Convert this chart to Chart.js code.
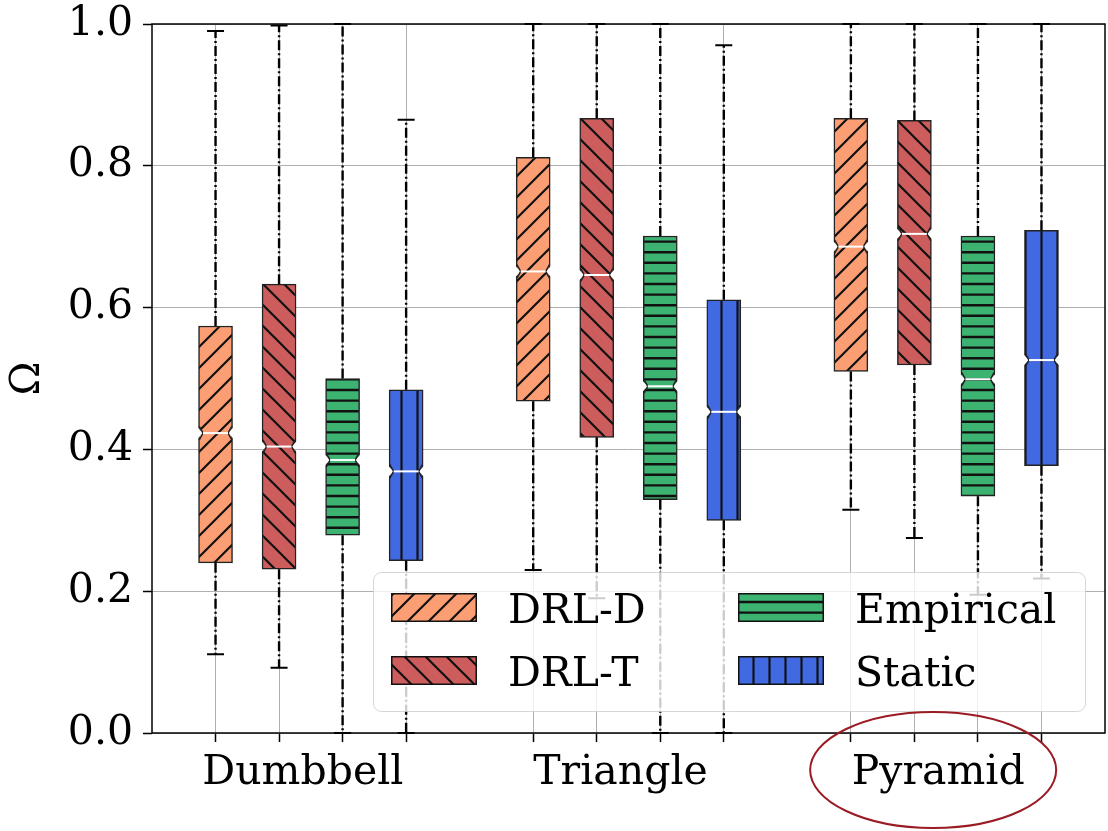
<!DOCTYPE html>
<html>
<head>
<meta charset="utf-8">
<script src="https://cdn.jsdelivr.net/npm/chart.js@4.4.1/dist/chart.umd.min.js"></script>
<style>
  html, body { margin: 0; padding: 0; background: #ffffff; }
  canvas { display: block; }
</style>
</head>
<body>
<canvas id="chart" width="1108" height="831"></canvas>
<script>
// Topologies on the x axis and the four controllers compared in each group
const categories = ['Dumbbell', 'Triangle', 'Pyramid'];
const seriesNames = ['DRL-D', 'DRL-T', 'Empirical', 'Static'];

// Box statistics of Ω, one row per controller, one column per topology
const whiskerLow    = [[0.111, 0.230, 0.315], [0.092, 0.190, 0.275], [0.000, 0.000, 0.195], [0.000, 0.000, 0.218]];
const lowerQuartile = [[0.240, 0.468, 0.510], [0.231, 0.417, 0.519], [0.279, 0.329, 0.334], [0.243, 0.300, 0.377]];
const medianValue   = [[0.423, 0.651, 0.686], [0.404, 0.646, 0.704], [0.385, 0.489, 0.499], [0.369, 0.453, 0.526]];
const upperQuartile = [[0.574, 0.812, 0.867], [0.633, 0.867, 0.864], [0.500, 0.701, 0.701], [0.484, 0.611, 0.709]];
const whiskerHigh   = [[0.990, 1.000, 1.000], [0.998, 1.000, 1.000], [1.000, 1.000, 1.000], [0.865, 0.970, 1.000]];

// Y axis tick values
const yTickValues = [0.0, 0.2, 0.4, 0.6, 0.8, 1.0];

// Topology whose label is circled
const highlightedCategory = 'Pyramid';

// Styles
const seriesColors = ['#FC9E74', '#CD5C5C', '#3CB371', '#4169E1'];
const seriesHatch  = ['fwd', 'back', 'horiz', 'vert'];
const FONT = "'DejaVu Serif', 'Liberation Serif', serif";
const NOTCH_HALF = 0.0095;   // notch half-height in Ω units
const NOTCH_INDENT = 4.5;    // notch depth in px on each side

// Box slot on the linear x axis: 4 boxes per group, one empty slot between groups
const boxPosition = (cat, s) => cat * (seriesNames.length + 1) + s + 1;
const groupCenter = (cat) => cat * (seriesNames.length + 1) + (seriesNames.length + 1) / 2;

const xTickValues = [];
const xTickLabel = {};
categories.forEach((name, i) => {
  seriesNames.forEach((_, s) => xTickValues.push(boxPosition(i, s)));
  xTickValues.push(groupCenter(i));
  xTickLabel[groupCenter(i)] = name;
});
xTickValues.sort((a, b) => a - b);

function makeHatch(kind, fill) {
  const t = document.createElement('canvas');
  let w, h;
  if (kind === 'fwd' || kind === 'back') { w = 21; h = 21; }
  else if (kind === 'horiz') { w = 4; h = 53; }
  else { w = 16; h = 4; }
  t.width = w; t.height = h;
  const g = t.getContext('2d');
  g.fillStyle = fill;
  g.fillRect(0, 0, w, h);
  g.strokeStyle = '#111';
  g.lineWidth = 2.2;
  g.beginPath();
  if (kind === 'fwd') {
    for (const o of [-w, 0, w]) { g.moveTo(o - 2, h + 2); g.lineTo(o + w + 2, -2); }
  } else if (kind === 'back') {
    for (const o of [-w, 0, w]) { g.moveTo(o - 2, -2); g.lineTo(o + w + 2, h + 2); }
  } else if (kind === 'horiz') {
    g.lineWidth = 2.4;
    for (let k = 0; k < 5; k++) { const y = 8.4 + 10.6 * k; g.moveTo(0, y); g.lineTo(w, y); }
  } else {
    g.moveTo(1.5, 0); g.lineTo(1.5, h);
  }
  g.stroke();
  const ctx = document.getElementById('chart').getContext('2d');
  return ctx.createPattern(t, 'repeat');
}

const patterns = seriesNames.map((_, s) => makeHatch(seriesHatch[s], seriesColors[s]));

const datasets = seriesNames.map((name, s) => ({
  label: name,
  data: categories.map((_, i) => ({ x: boxPosition(i, s), y: [lowerQuartile[s][i], upperQuartile[s][i]] })),
  backgroundColor: patterns[s],
  borderColor: '#222222',
  borderWidth: 1.5,
  borderSkipped: false,
  barThickness: 34,
  grouped: false
}));

function eachBox(chart, fn) {
  const yS = chart.scales.y;
  chart.data.datasets.forEach((ds, s) => {
    const meta = chart.getDatasetMeta(s);
    meta.data.forEach((el, i) => {
      const p = el.getProps(['x', 'width'], true);
      fn({
        x: p.x,
        left: p.x - p.width / 2,
        right: p.x + p.width / 2,
        width: p.width,
        low: yS.getPixelForValue(whiskerLow[s][i]),
        q1: yS.getPixelForValue(lowerQuartile[s][i]),
        med: yS.getPixelForValue(medianValue[s][i]),
        q3: yS.getPixelForValue(upperQuartile[s][i]),
        high: yS.getPixelForValue(whiskerHigh[s][i]),
        nTop: yS.getPixelForValue(medianValue[s][i] + NOTCH_HALF),
        nBot: yS.getPixelForValue(medianValue[s][i] - NOTCH_HALF)
      });
    });
  });
}

// Notches, medians, whiskers, caps and the axes frame
const boxDetails = {
  id: 'boxDetails',
  beforeDatasetsDraw(chart) {
    const ctx = chart.ctx;
    ctx.save();
    ctx.beginPath();
    ctx.rect(0, 0, chart.width, chart.height);
    eachBox(chart, (b) => {
      ctx.moveTo(b.left - 2, b.nTop); ctx.lineTo(b.left + NOTCH_INDENT, b.med); ctx.lineTo(b.left - 2, b.nBot); ctx.closePath();
      ctx.moveTo(b.right + 2, b.nTop); ctx.lineTo(b.right - NOTCH_INDENT, b.med); ctx.lineTo(b.right + 2, b.nBot); ctx.closePath();
    });
    ctx.clip('evenodd');
  },
  afterDatasetsDraw(chart) {
    const ctx = chart.ctx;
    ctx.restore();
    ctx.save();
    eachBox(chart, (b) => {
      // notch outline
      ctx.setLineDash([]);
      ctx.strokeStyle = '#222222';
      ctx.lineWidth = 1.5;
      ctx.beginPath();
      ctx.moveTo(b.left + 0.75, b.nTop); ctx.lineTo(b.left + NOTCH_INDENT, b.med); ctx.lineTo(b.left + 0.75, b.nBot);
      ctx.moveTo(b.right - 0.75, b.nTop); ctx.lineTo(b.right - NOTCH_INDENT, b.med); ctx.lineTo(b.right - 0.75, b.nBot);
      ctx.stroke();
      // median
      ctx.strokeStyle = '#ffffff';
      ctx.lineWidth = 2;
      ctx.beginPath();
      ctx.moveTo(b.left + NOTCH_INDENT, b.med); ctx.lineTo(b.right - NOTCH_INDENT, b.med);
      ctx.stroke();
      // whiskers
      ctx.strokeStyle = '#000000';
      ctx.lineWidth = 2.4;
      ctx.setLineDash([10, 3, 2, 3]);
      ctx.beginPath();
      ctx.moveTo(b.x, b.q3); ctx.lineTo(b.x, b.high);
      ctx.moveTo(b.x, b.q1); ctx.lineTo(b.x, b.low);
      ctx.stroke();
      // caps
      ctx.setLineDash([]);
      ctx.lineWidth = 2;
      ctx.beginPath();
      const cw = b.width / 4;
      ctx.moveTo(b.x - cw, b.high); ctx.lineTo(b.x + cw, b.high);
      ctx.moveTo(b.x - cw, b.low); ctx.lineTo(b.x + cw, b.low);
      ctx.stroke();
    });
    const a = chart.chartArea;
    ctx.strokeStyle = '#000000';
    ctx.lineWidth = 1.5;
    ctx.strokeRect(a.left, a.top, a.right - a.left, a.bottom - a.top);
    ctx.restore();
  }
};

// Two-column legend inside the plot area, plus the ring around one category label
const boxLegend = {
  id: 'boxLegend',
  afterDraw(chart) {
    const ctx = chart.ctx;
    ctx.save();
    ctx.beginPath();
    ctx.roundRect(373.5, 572.5, 712, 139, 8);
    ctx.fillStyle = 'rgba(255,255,255,0.8)';
    ctx.fill();
    ctx.strokeStyle = 'rgba(204,204,204,0.8)';
    ctx.lineWidth = 1;
    ctx.stroke();
    const colX = [391, 738];
    const rowY = [593, 656];
    ctx.font = '41px ' + FONT;
    ctx.textBaseline = 'alphabetic';
    ctx.textAlign = 'left';
    seriesNames.forEach((name, s) => {
      const col = Math.floor(s / 2), row = s % 2;
      const x = colX[col], y = rowY[row];
      ctx.fillStyle = patterns[s];
      ctx.fillRect(x, y, 86, 29);
      ctx.strokeStyle = '#111111';
      ctx.lineWidth = 1.5;
      ctx.strokeRect(x + 0.75, y + 0.75, 84.5, 27.5);
      ctx.fillStyle = '#000000';
      ctx.fillText(name, x + 117, y + 29.5);
    });

    // ring around the highlighted topology label
    const ci = categories.indexOf(highlightedCategory);
    if (ci >= 0) {
      const cx = chart.scales.x.getPixelForValue(groupCenter(ci)) - 13;
      ctx.beginPath();
      ctx.ellipse(cx, 770, 123, 58, 0, 0, Math.PI * 2);
      ctx.strokeStyle = '#9B1B24';
      ctx.lineWidth = 2;
      ctx.stroke();
    }
    ctx.restore();
  }
};

const transparent = 'rgba(0,0,0,0)';
const isBoxTick = (c) => c.tick && Number.isInteger(c.tick.value);

new Chart(document.getElementById('chart'), {
  type: 'bar',
  data: { datasets },
  plugins: [boxDetails, boxLegend],
  options: {
    responsive: false,
    animation: false,
    devicePixelRatio: 1,
    layout: { padding: { left: 0, right: 3, top: 24, bottom: 0 } },
    font: { family: FONT },
    plugins: { legend: { display: false }, tooltip: { enabled: false } },
    scales: {
      x: {
        type: 'linear',
        min: 0,
        max: (seriesNames.length + 1) * categories.length,
        offset: false,
        afterBuildTicks: (sc) => { sc.ticks = xTickValues.map(v => ({ value: v })); },
        afterFit: (sc) => { sc.height = 98; sc.paddingLeft = 0; sc.paddingRight = 0; },
        border: { display: false },
        grid: {
          offset: false,
          color: (c) => isBoxTick(c) ? '#b0b0b0' : transparent,
          tickColor: (c) => isBoxTick(c) ? '#000000' : transparent,
          lineWidth: 1,
          tickWidth: 1.5,
          tickLength: 9
        },
        ticks: {
          autoSkip: false,
          maxRotation: 0,
          minRotation: 0,
          padding: 7,
          labelOffset: -8,
          color: '#000000',
          font: { family: FONT, size: 41 },
          callback: (v) => xTickLabel[v] || ''
        }
      },
      y: {
        min: 0,
        max: 1,
        afterBuildTicks: (sc) => { sc.ticks = yTickValues.map(v => ({ value: v })); },
        afterFit: (sc) => { sc.width = 152; sc.paddingTop = 0; sc.paddingBottom = 0; },
        border: { display: false },
        grid: { color: '#b0b0b0', lineWidth: 1, tickColor: '#000000', tickWidth: 1.5, tickLength: 9 },
        ticks: {
          padding: 10,
          color: '#000000',
          font: { family: FONT, size: 41 },
          callback: (v) => Number(v).toFixed(1)
        },
        title: {
          display: true,
          text: 'Ω',
          color: '#000000',
          font: { family: FONT, size: 41 },
          padding: { top: 4, bottom: 4 }
        }
      }
    }
  }
});
</script>
</body>
</html>
